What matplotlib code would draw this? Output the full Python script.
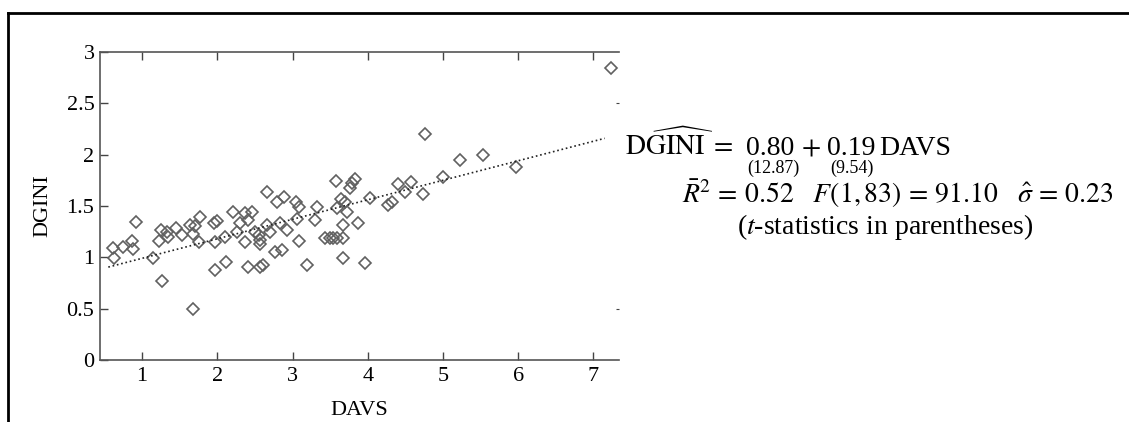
import matplotlib
matplotlib.use("Agg")
import matplotlib.pyplot as plt
from matplotlib.lines import Line2D

plt.rcParams["font.family"] = ["Liberation Serif", "DejaVu Serif"]
plt.rcParams["mathtext.fontset"] = "stix"

# DAVS (x) and DGINI (y)
davs = [0.61, 0.62, 0.75, 0.87, 0.88, 0.92, 1.15, 1.26, 1.22, 1.25,
        1.33, 1.35, 1.45, 1.53, 1.64, 1.67, 1.70, 1.77, 1.76, 1.67,
        1.95, 1.99, 1.97, 1.97, 2.12, 2.10, 2.21, 2.26, 2.30, 2.37,
        2.41, 2.46, 2.37, 2.41, 2.50, 2.55, 2.57, 2.57, 2.57, 2.61,
        2.66, 2.70, 2.66, 2.77, 2.79, 2.83, 2.86, 2.88, 2.92, 3.05,
        3.08, 3.06, 3.08, 3.19, 3.32, 3.30, 3.43, 3.50, 3.54, 3.59,
        3.67, 3.58, 3.59, 3.65, 3.70, 3.67, 3.72, 3.67, 3.76, 3.79,
        3.83, 3.87, 3.96, 4.03, 4.27, 4.32, 4.40, 4.49, 4.58, 4.74,
        4.76, 5.00, 5.22, 5.53, 5.97, 7.23]
dgini = [1.09, 0.99, 1.10, 1.16, 1.08, 1.34, 0.99, 0.77, 1.16, 1.27,
         1.25, 1.20, 1.29, 1.22, 1.31, 1.23, 1.30, 1.39, 1.15, 0.50,
         1.33, 1.35, 1.15, 0.88, 0.95, 1.20, 1.44, 1.25, 1.33, 1.43,
         1.36, 1.44, 1.15, 0.91, 1.25, 1.22, 1.17, 1.13, 0.91, 0.92,
         1.31, 1.25, 1.64, 1.05, 1.54, 1.33, 1.07, 1.59, 1.27, 1.54,
         1.49, 1.37, 1.16, 0.92, 1.49, 1.36, 1.19, 1.19, 1.19, 1.19,
         1.19, 1.74, 1.48, 1.57, 1.54, 1.31, 1.44, 0.99, 1.67, 1.72,
         1.76, 1.33, 0.94, 1.58, 1.51, 1.54, 1.71, 1.64, 1.73, 1.62,
         2.20, 1.78, 1.95, 2.00, 1.88, 2.84]

# fitted line DGINI = 0.80 + 0.19 DAVS, t-stats below the coefficients
intercept, slope = 0.80, 0.19
t_intercept, t_slope = 12.87, 9.54
fit_x = [0.55, 7.15]
fit_y = [intercept + slope * v for v in fit_x]

xticks = [1, 2, 3, 4, 5, 6, 7]
yticks = [0, 0.5, 1, 1.5, 2, 2.5, 3]
ytick_labels = ["0", "0.5", "1", "1.5", "2", "2.5", "3"]

W, H = 1129, 422


def fx(px):
    return px / W


def fy(py):
    return 1 - py / H


fig = plt.figure(figsize=(11.29, 4.22), dpi=100)
ax = fig.add_axes([0.0886, 0.147, 0.4597, 0.730])

ax.plot(davs, dgini, "D", ms=6.5, mfc="none", mec="#606060", mew=1.2)
ax.plot(fit_x, fit_y, ":", color="#222222", lw=1.2)

ax.set_xlim(0.44, 7.34)
ax.set_ylim(0, 3)
ax.set_xticks(xticks)
ax.set_yticks(yticks)
ax.set_yticklabels(ytick_labels)
ax.tick_params(direction="in", length=6, width=1, color="#444444",
               labelsize=16, top=True, pad=5)
ax.tick_params(axis="y", pad=4)
ax.spines["right"].set_visible(False)
for s in ["left", "bottom", "top"]:
    ax.spines[s].set_color("#555555")
    ax.spines[s].set_linewidth(1.2)

sec = ax.secondary_yaxis("right")
sec.set_yticks([0.5, 2.5])
sec.set_yticklabels([])
sec.tick_params(direction="in", length=2.5, color="#444444")
sec.spines["right"].set_visible(False)

ax.set_xlabel("DAVS", fontsize=16, labelpad=11)
ax.set_ylabel("DGINI", fontsize=16, labelpad=10)

# regression summary, first line built in pieces
base = fy(155)
fig.text(fx(625), base, r"$\mathrm{D}\widehat{\mathrm{GINI}}\;=$",
         fontsize=20, va="baseline", ha="left")
fig.text(fx(770), base, f"{intercept:.2f}", fontsize=20, va="baseline", ha="center")
fig.text(fx(811), base, r"$+$", fontsize=20, va="baseline", ha="center")
fig.text(fx(851), base, f"{slope:.2f}", fontsize=20, va="baseline", ha="center")
fig.text(fx(879), base, "DAVS", fontsize=20, va="baseline", ha="left")
fig.text(fx(773), fy(173), f"({t_intercept:.2f})", fontsize=13,
         va="baseline", ha="center")
fig.text(fx(852), fy(173), f"({t_slope:.2f})", fontsize=13,
         va="baseline", ha="center")

fig.text(fx(898), fy(194),
         r"$\bar{R}^2 \,=\, 0.52 \quad F(1,83) \,=\, 91.10 \quad \hat{\sigma} \,=\, 0.23$",
         fontsize=20, va="center", ha="center")
fig.text(fx(885), fy(227), r"($t$-statistics in parentheses)",
         fontsize=20, va="center", ha="center")

# page frame
fig.add_artist(Line2D([0.007, 1.0], [0.969, 0.969], color="black", lw=2))
fig.add_artist(Line2D([0.007, 0.007], [0.0, 0.969], color="black", lw=2))

fig.savefig("out.png", dpi=100)
